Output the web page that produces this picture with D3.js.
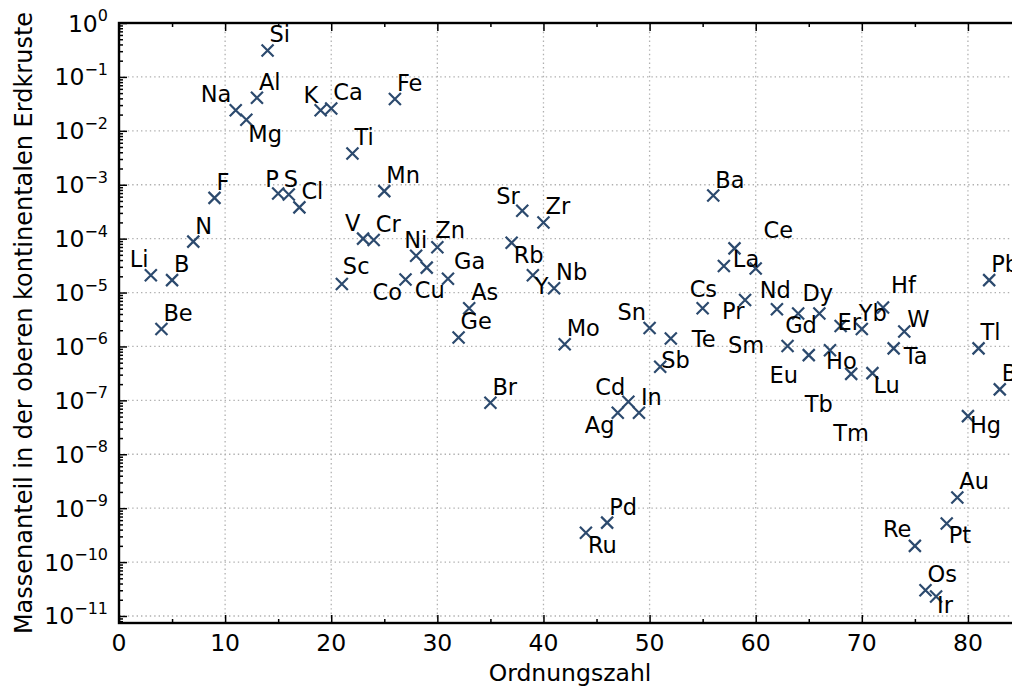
<!DOCTYPE html>
<html>
<head>
<meta charset="utf-8">
<script src="https://cdn.jsdelivr.net/npm/d3@7"></script>
<style>
  html, body { margin: 0; padding: 0; background: #fff; overflow: hidden; }
  svg { display: block; font-family: "DejaVu Sans", sans-serif; }
</style>
</head>
<body>
<svg id="chart" width="1012" height="687"></svg>
<script>
// ---- data ----
const symbols = ["Li","Be","B","N","F","Na","Mg","Al","Si","P","S","Cl","K","Ca","Sc","Ti","V","Cr","Mn","Fe",
  "Co","Ni","Cu","Zn","Ga","Ge","As","Br","Rb","Sr","Y","Zr","Nb","Mo","Ru","Pd","Ag","Cd","In","Sn","Sb","Te",
  "Cs","Ba","La","Ce","Pr","Nd","Sm","Eu","Gd","Tb","Dy","Ho","Er","Tm","Yb","Lu","Hf","Ta","W","Re","Os","Ir",
  "Pt","Au","Hg","Tl","Pb","Bi"];
const atomicNumbers = [3,4,5,7,9,11,12,13,14,15,16,17,19,20,21,22,23,24,25,26,
  27,28,29,30,31,32,33,35,37,38,39,40,41,42,44,46,47,48,49,50,51,52,
  55,56,57,58,59,60,62,63,64,65,66,67,68,69,70,71,72,73,74,75,76,77,
  78,79,80,81,82,83];
const massFractions = [2.1e-5,2.1e-6,1.7e-5,8.8e-5,5.7e-4,2.4e-2,1.6e-2,4.1e-2,3.1e-1,6.9e-4,6.6e-4,3.8e-4,2.4e-2,2.6e-2,1.44e-5,3.8e-3,1.0e-4,9.4e-5,7.6e-4,3.9e-2,
  1.75e-5,4.8e-5,2.9e-5,6.9e-5,1.8e-5,1.47e-6,5.1e-6,9.0e-8,8.4e-5,3.3e-4,2.1e-5,2.0e-4,1.2e-5,1.1e-6,3.5e-10,5.4e-10,5.9e-8,9.4e-8,5.9e-8,2.2e-6,4.2e-7,1.4e-6,
  5.1e-6,6.3e-4,3.1e-5,6.6e-5,7.3e-6,2.8e-5,4.9e-6,1.02e-6,4.1e-6,6.9e-7,4.1e-6,8.5e-7,2.4e-6,3.1e-7,2.1e-6,3.2e-7,5.3e-6,9.2e-7,1.9e-6,2.0e-10,3.0e-11,2.3e-11,
  5.2e-10,1.58e-9,5.1e-8,9.2e-7,1.7e-5,1.6e-7];
const xTickValues = [0,10,20,30,40,50,60,70,80];
const yTickExponents = [0,-1,-2,-3,-4,-5,-6,-7,-8,-9,-10,-11];
const xLabel = "Ordnungszahl";
const yLabel = "Massenanteil in der oberen kontinentalen Erdkruste";

// ---- label placement (pixel offsets of each text from its marker) ----
const labelOffset = {
  Na:[-35,-8], Mg:[2,22], K:[-17,-7], P:[-13,-6], S:[-5,-7], Li:[-21,-8], Sc:[1,-10], V:[-18,-8],
  Ni:[-12,-8], Co:[-33,21], Cu:[-12,30], Zn:[-2,-9], Ga:[6,-10], Rb:[2,20], Y:[2,19], Cd:[-33,-7],
  Ag:[-33,20], Sn:[-32,-8], Sb:[1,1], Te:[21,8], Cs:[-13,-11], Pr:[-23,19], Sm:[-49,44], La:[9,1],
  Ce:[29,-10], Nd:[4,30], Dy:[-17,-12], Gd:[-13,20], Eu:[-18,37], Tb:[-4,57], Ho:[-4,19], Tm:[-18,67],
  Er:[-3,4], Yb:[-3,-8], Hf:[8,-14], W:[3,-4], Ta:[10,16], Lu:[1,20], Hg:[2,17], Sr:[-26,-7],
  Ru:[2,20], Pt:[2,20], Re:[-32,-9], Ir:[1,17]
};
const defaultOffset = [2,-8];

// ---- layout ----
const mLeft = 119, mTop = 23, plotW = 902, plotH = 600;
const svg = d3.select("#chart");
const x = d3.scaleLinear().domain([0, 85]).range([mLeft, mLeft + plotW]);
const y = d3.scaleLog().domain([Math.pow(10, -11.13), 1]).range([mTop + plotH, mTop]);
const gridColor = "#b0b0b0";
const markColor = "#2c4a6e";

// grid
const gGrid = svg.append("g");
gGrid.selectAll("line.vx").data(xTickValues).join("line")
  .attr("x1", d => x(d)).attr("x2", d => x(d)).attr("y1", mTop).attr("y2", mTop + plotH)
  .attr("stroke", gridColor).attr("stroke-width", 1.3).attr("stroke-dasharray", "1.4,3");
gGrid.selectAll("line.hy").data(yTickExponents).join("line")
  .attr("x1", mLeft).attr("x2", mLeft + plotW).attr("y1", d => y(Math.pow(10, d))).attr("y2", d => y(Math.pow(10, d)))
  .attr("stroke", gridColor).attr("stroke-width", 1.3).attr("stroke-dasharray", "1.4,3");

// axes with inward ticks
const xMinor = d3.range(5, 85, 10);
function addXAxis(yPos, dir) {
  const axisFn = dir > 0 ? d3.axisTop : d3.axisBottom;
  const gMaj = svg.append("g").attr("transform", `translate(0,${yPos})`)
    .call(axisFn(x).tickValues(xTickValues).tickSize(8).tickFormat(""));
  const gMin = svg.append("g").attr("transform", `translate(0,${yPos})`)
    .call(axisFn(x).tickValues(xMinor).tickSize(4).tickFormat(""));
  [gMaj, gMin].forEach(g => {
    g.select(".domain").remove();
    g.selectAll(".tick line").attr("stroke", "#000").attr("stroke-width", 1.5);
  });
}
addXAxis(mTop + plotH, 1);
addXAxis(mTop, -1);

const yMinorVals = [];
for (let e = -12; e < 0; e++) for (let k = 2; k <= 9; k++) {
  const v = k * Math.pow(10, e);
  if (v >= y.domain()[0] && v <= 1) yMinorVals.push(v);
}
const yMajorVals = yTickExponents.map(e => Math.pow(10, e));
function addYAxis(xPos, dir) {
  const axisFn = dir > 0 ? d3.axisRight : d3.axisLeft;
  const gMaj = svg.append("g").attr("transform", `translate(${xPos},0)`)
    .call(axisFn(y).tickValues(yMajorVals).tickSize(8).tickFormat(""));
  const gMin = svg.append("g").attr("transform", `translate(${xPos},0)`)
    .call(axisFn(y).tickValues(yMinorVals).tickSize(4).tickFormat(""));
  [gMaj, gMin].forEach(g => {
    g.select(".domain").remove();
    g.selectAll(".tick line").attr("stroke", "#000").attr("stroke-width", 1.5);
  });
}
addYAxis(mLeft, 1);
addYAxis(mLeft + plotW, -1);

// frame
svg.append("rect").attr("x", mLeft).attr("y", mTop).attr("width", plotW).attr("height", plotH)
  .attr("fill", "none").attr("stroke", "#000").attr("stroke-width", 2.4);

// tick labels
svg.append("g").selectAll("text").data(xTickValues).join("text")
  .attr("x", d => x(d)).attr("y", mTop + plotH + 28).attr("text-anchor", "middle")
  .attr("font-size", 23.5).attr("fill", "#000").text(d => d);

const yl = svg.append("g").selectAll("text").data(yTickExponents).join("text")
  .attr("x", 108).attr("y", d => y(Math.pow(10, d)) + 8.5).attr("text-anchor", "end")
  .attr("font-size", 23.5).attr("fill", "#000");
yl.append("tspan").text("10");
yl.append("tspan").attr("dy", -10.5).attr("font-size", 16)
  .text(d => d < 0 ? "\u2212" + Math.abs(d) : String(d));

// axis titles
svg.append("text").attr("x", mLeft + plotW / 2).attr("y", 681).attr("text-anchor", "middle")
  .attr("font-size", 23.5).attr("fill", "#000").text(xLabel);
svg.append("text").attr("transform", `translate(32,${mTop + plotH / 2}) rotate(-90)`)
  .attr("text-anchor", "middle").attr("font-size", 24).attr("fill", "#000").text(yLabel);

// data
const data = symbols.map((sym, i) => ({ sym, z: atomicNumbers[i], v: massFractions[i] }));
const mk = 6;
svg.append("g").selectAll("path").data(data).join("path")
  .attr("transform", d => `translate(${x(d.z)},${y(d.v)})`)
  .attr("d", `M${-mk},${-mk}L${mk},${mk}M${-mk},${mk}L${mk},${-mk}`)
  .attr("stroke", markColor).attr("stroke-width", 2.2).attr("fill", "none");

svg.append("g").selectAll("text").data(data).join("text")
  .attr("x", d => x(d.z) + (labelOffset[d.sym] || defaultOffset)[0])
  .attr("y", d => y(d.v) + (labelOffset[d.sym] || defaultOffset)[1])
  .attr("font-size", 22.5).attr("fill", "#000").text(d => d.sym);
</script>
</body>
</html>
